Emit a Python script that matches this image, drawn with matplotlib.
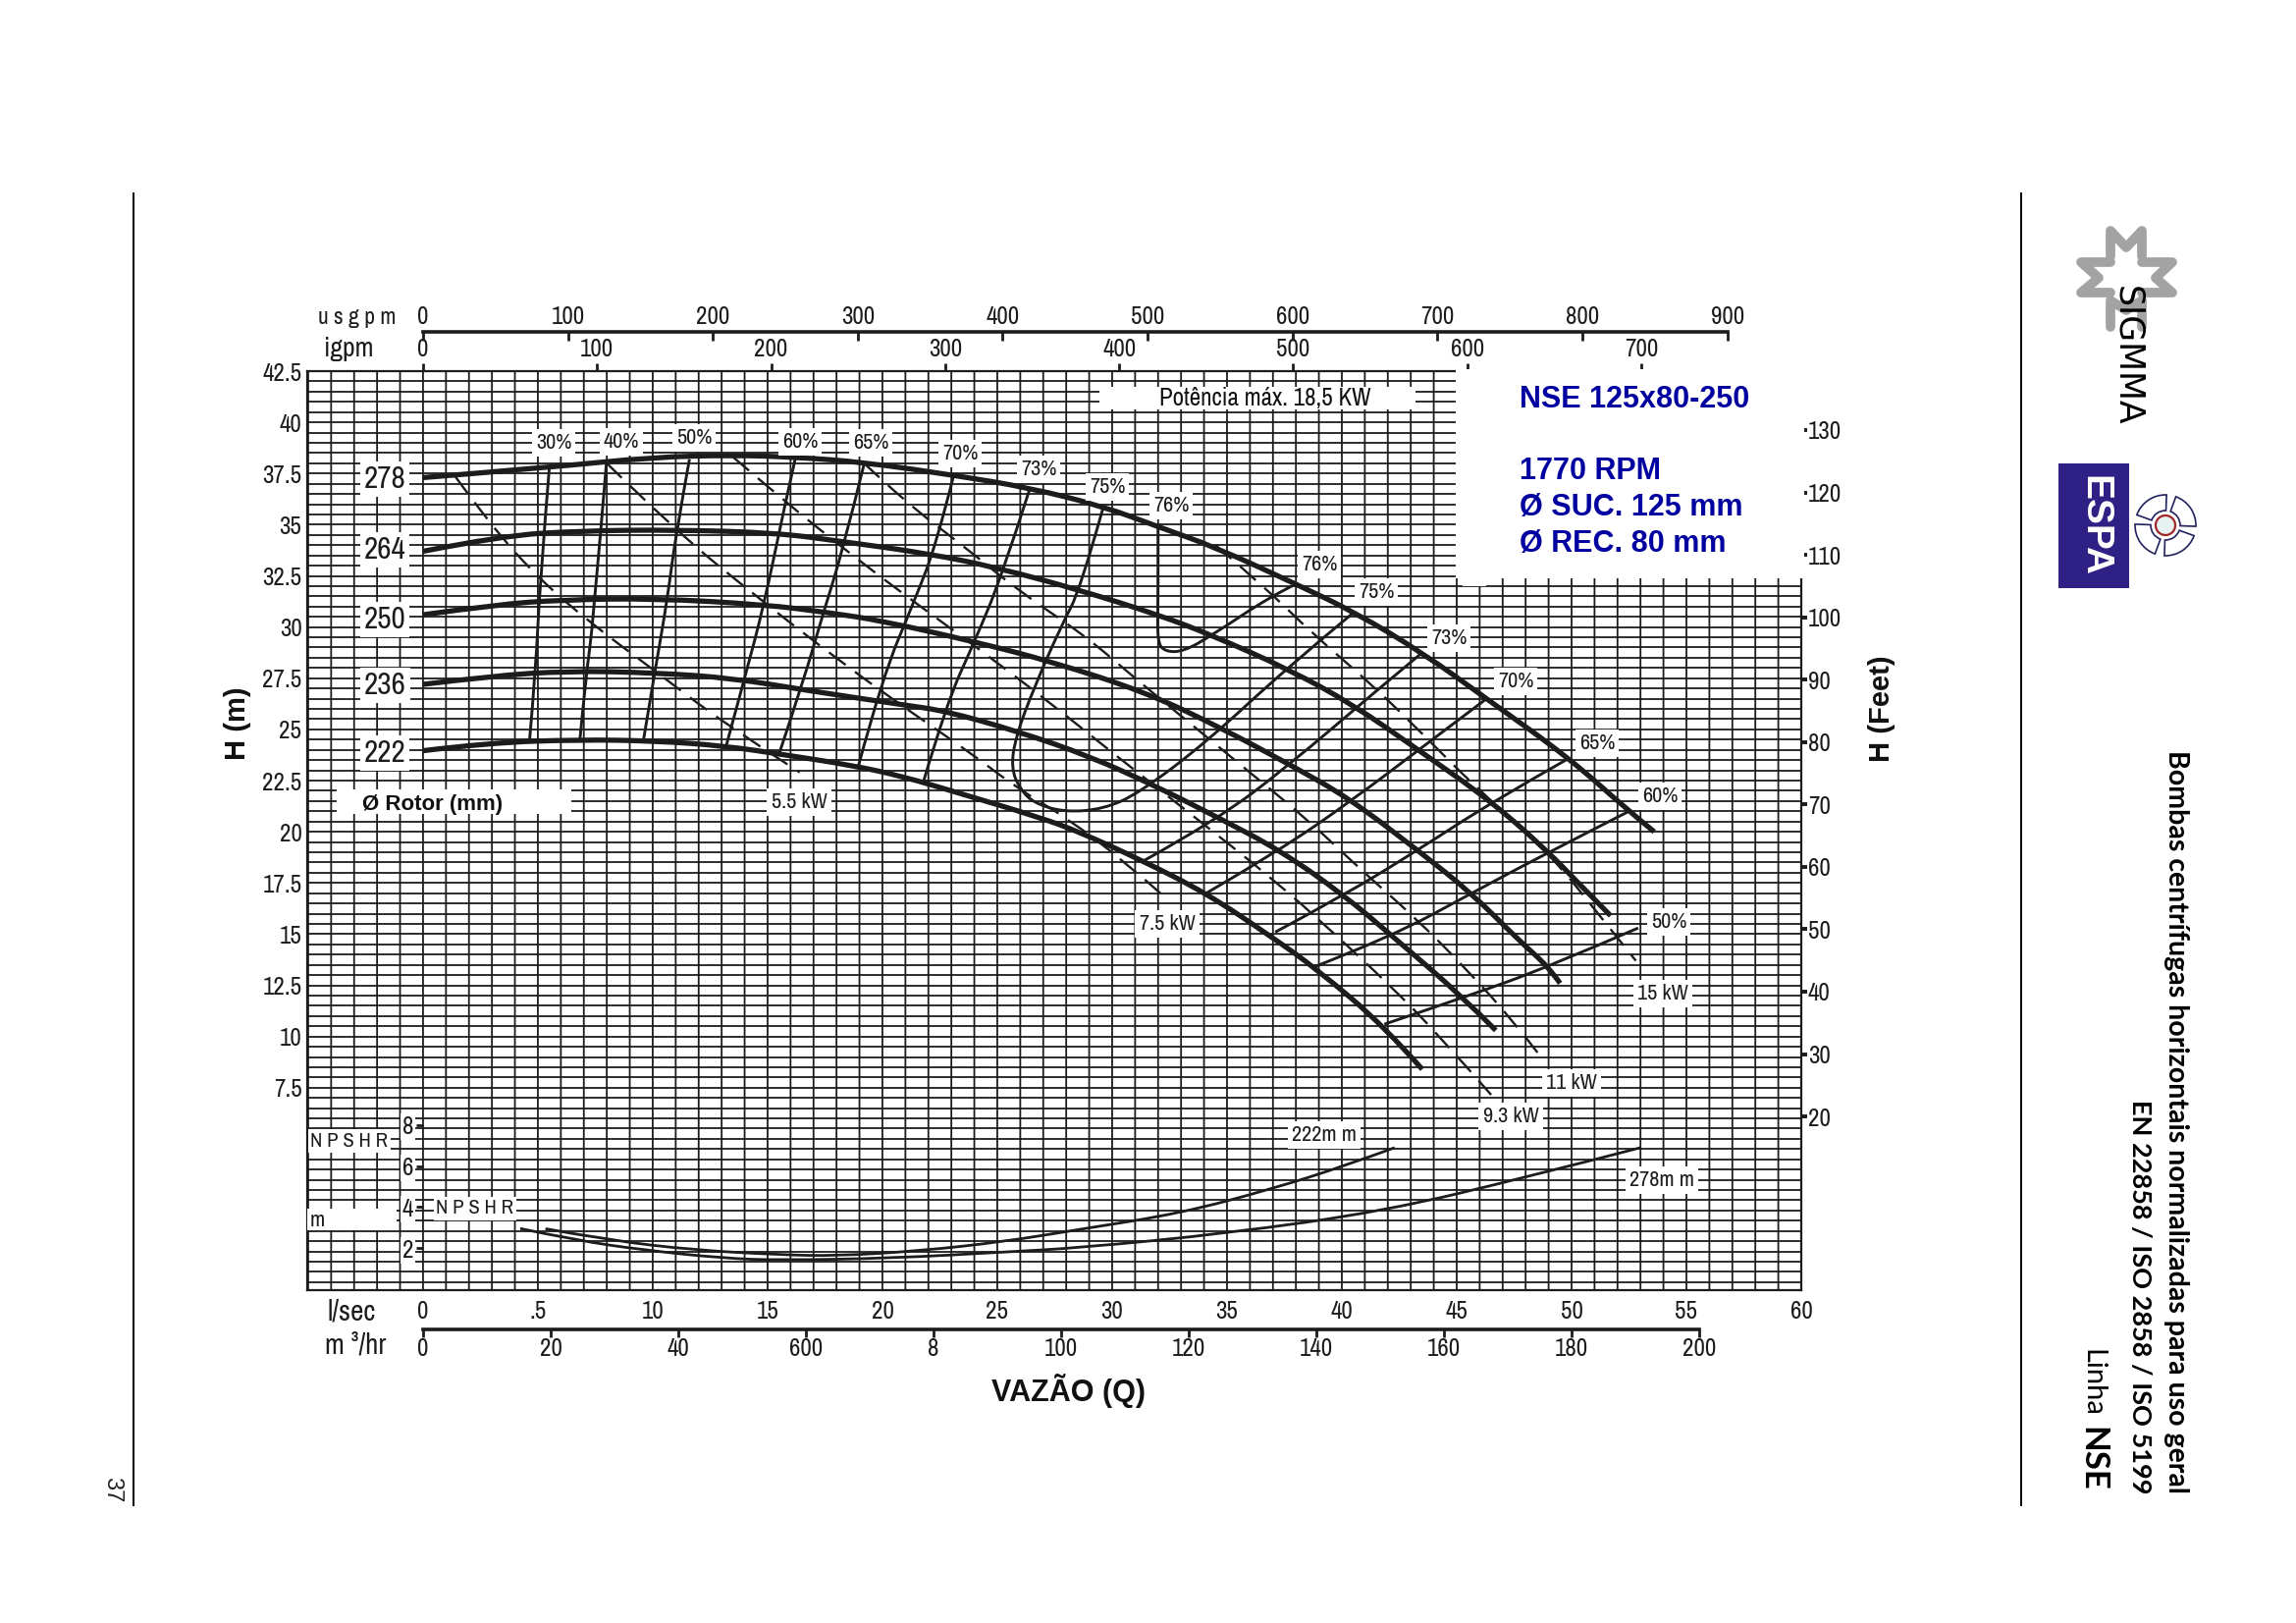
import numpy as np
import matplotlib
matplotlib.use("Agg")
import matplotlib.pyplot as plt
from matplotlib.patches import Rectangle, Circle, Wedge, PathPatch
from matplotlib.path import Path

W, HT = 2339, 1653
NARROW = ['Archivo Narrow', 'Liberation Sans']
PLAIN = ['Liberation Sans']
plt.rcParams['font.family'] = NARROW
INK = '#1c1c1c'

# head curves per rotor, flow in l/s, head in m
q_278 = [0, 5.5, 10, 13.5, 16.2, 19.2, 23.2, 26.4, 29.6, 32, 34.5, 38, 40.6, 43.5, 46.3, 49.9, 52.5, 53.6]
h_278 = [37.3, 37.8, 38.3, 38.4, 38.3, 38.05, 37.4, 36.8, 35.9, 34.9, 33.9, 32.1, 30.7, 28.75, 26.5, 23.6, 21.0, 20.0]
q_264 = [0, 3.4, 6.8, 11, 15.4, 18.1, 21.95, 25, 28.6, 32, 34.35, 37.75, 40.5, 43.2, 46.55, 49, 50.2, 51.7]
h_264 = [33.7, 34.45, 34.7, 34.75, 34.6, 34.2, 33.6, 32.9, 31.8, 30.6, 29.6, 27.9, 26.2, 24.1, 21.45, 19.0, 17.6, 15.9]
q_250 = [0, 3.2, 6.07, 10.08, 14.85, 17.7, 20, 24.1, 27.4, 31.5, 34.75, 37.75, 40.3, 43.3, 45.65, 47.7, 49, 49.5]
h_250 = [30.6, 31.1, 31.33, 31.4, 31.1, 30.7, 30.3, 29.26, 28.3, 26.8, 25.07, 23.27, 21.65, 19.1, 17.0, 14.7, 13.4, 12.6]
q_236 = [0, 2.9, 6.3, 10.1, 13.5, 16.75, 20.9, 22.76, 25.9, 29, 31.95, 34.6, 37.3, 40.1, 42.2, 45.3, 46.7]
h_236 = [27.2, 27.6, 27.86, 27.77, 27.5, 26.9, 26.2, 25.9, 24.9, 23.7, 22.2, 20.7, 19.1, 16.9, 14.9, 11.9, 10.3]
q_222 = [0, 2.9, 6.8, 10.1, 13.1, 15.8, 18.7, 20.9, 23.3, 26.85, 28.6, 31.3, 34.1, 36.9, 38.9, 41.85, 43.5]
h_222 = [23.96, 24.35, 24.5, 24.44, 24.2, 23.75, 23.24, 22.7, 21.9, 20.7, 19.98, 18.6, 17.0, 14.9, 13.3, 10.5, 8.4]
rotor_curves = [(q_278, h_278), (q_264, h_264), (q_250, h_250), (q_236, h_236), (q_222, h_222)]

# efficiency lines
eff_lines = {
    '30': ([5.5, 5.1, 4.9, 4.64], [37.8, 32.3, 27.8, 24.5]),
    '40': ([7.98, 7.4, 7.1, 6.83], [37.96, 30.1, 27.7, 24.5]),
    '50': ([11.6, 11, 10.65, 10.1, 9.6], [38.2, 34.5, 31.45, 27.86, 24.5]),
    '60': ([16.2, 15.7, 14.85, 14, 13.2], [38.2, 35.7, 31.1, 27.5, 24.2]),
    '65': ([19.2, 18.3, 17.4, 16.6, 15.5], [37.96, 33.85, 30.6, 27.5, 23.8]),
    '70': ([23.1, 22.35, 21.4, 20, 18.95], [37.4, 34.06, 31.3, 27.55, 23.2]),
    '73': ([26.4, 25.2, 24, 22.8, 21.8], [36.7, 32.5, 29.26, 26.3, 22.5]),
    '75': ([29.6, 28.6, 27.8, 26.6, 25.8, 25.6, 26, 26.6, 27.9, 29.6, 31.2, 34.2, 37.5, 40.5],
           [35.8, 31.8, 30.1, 27.04, 24.64, 23.1, 22.07, 21.4, 20.96, 21.1, 21.9, 24.47, 27.9, 30.7]),
    '76': ([32, 32, 31.97, 32.3, 33.1, 34.35, 36.9, 38],
           [34.9, 31.3, 29.26, 28.8, 28.8, 29.6, 31.5, 32.1]),
    '73r': ([43.5, 41.3, 37.75, 34.6, 31.4], [28.75, 26.7, 23.3, 20.6, 18.6]),
    '70r': ([46.3, 43.7, 40.4, 37.3, 34.1], [26.5, 24.3, 21.5, 19.1, 17.0]),
    '65r': ([49.9, 46.6, 43.3, 40.1, 37.1], [23.6, 21.5, 19.1, 16.9, 15.1]),
    '60r': ([52.5, 49, 45.65, 42.2, 38.8], [21.0, 19.0, 17.0, 14.9, 13.4]),
    '50r': ([52.9, 49, 45.3, 41.85], [15.3, 13.4, 11.9, 10.6]),
}

# power lines (dashed)
kw_5_5 = ([1.4, 3, 5.1, 7.4, 10.1, 13.1, 16.4], [37.36, 34.9, 32.3, 30.1, 27.86, 25.3, 22.9])
kw_7_5 = ([8, 11, 14.5, 18.3, 21.3, 23.9, 25.9, 28, 30.6, 32.3],
          [38, 34.7, 31.5, 28.2, 25.8, 23.8, 22.1, 20.7, 18.5, 16.8])
kw_9_3 = ([13.5, 16, 18.3, 20.8, 24, 27.3, 29.85, 33.5, 37.1, 39.6, 42, 44.2, 46.5],
          [38.3, 35.9, 33.85, 31.7, 29.1, 26.3, 24, 20.8, 17.6, 15.1, 12.6, 10.1, 7.15])
kw_11 = ([19.2, 21, 23.6, 26, 28.8, 31.1, 33.5, 36.1, 38.6, 40.87, 43.2, 45.5, 47.5, 48.6],
         [38, 36.1, 33.9, 31.7, 29.6, 27.4, 25.2, 22.8, 20.5, 18.1, 15.8, 13.2, 10.7, 9.1])
kw_15 = ([34.5, 36.5, 38.8, 41.2, 43.5, 45.8, 49, 51.3, 52.8],
         [34, 32.1, 29.6, 27.3, 24.8, 22.2, 19, 15.8, 13.7])
power_lines = [kw_5_5, kw_7_5, kw_9_3, kw_11, kw_15]

# NPSHR
npsh_q_222 = [5.33, 8.15, 11.8, 15.5, 18, 21.65, 25.3, 28.6, 33, 37, 40.1, 42.3]
npsh_222 = [2.94, 2.37, 1.9, 1.67, 1.61, 1.86, 2.31, 2.91, 3.7, 4.9, 6.0, 6.9]
npsh_q_278 = [4.23, 6.7, 9.6, 13.06, 15.5, 20.4, 25.3, 28.6, 35, 41.85, 48.2, 53]
npsh_278 = [2.95, 2.37, 1.9, 1.5, 1.4, 1.5, 1.8, 2.01, 2.71, 3.8, 5.5, 6.9]

# axis ticks
h_ticks = [7.5, 10, 12.5, 15, 17.5, 20, 22.5, 25, 27.5, 30, 32.5, 35, 37.5, 40, 42.5]
h_labels = ['7.5', '10', '12.5', '15', '17.5', '20', '22.5', '25', '27.5', '30', '32.5', '35', '37.5', '40', '42.5']
ls_ticks = list(range(0, 65, 5))
ls_labels = ['0', '.5', '10', '15', '20', '25', '30', '35', '40', '45', '50', '55', '60']
m3h_ticks = list(range(0, 220, 20))
m3h_labels = ['0', '20', '40', '600', '8', '100', '120', '140', '160', '180', '200']
usgpm_ticks = list(range(0, 1000, 100))
igpm_ticks = list(range(0, 800, 100))
ft_ticks = list(range(20, 140, 10))
npsh_ticks = [2, 4, 6, 8]

# labels, pixel positions of the page
eff_text = [('30%', 564, 451), ('40%', 633, 450), ('50%', 707, 446), ('60%', 815, 450), ('65%', 887, 451),
            ('70%', 978, 462), ('73%', 1058, 478), ('75%', 1128, 496), ('76%', 1193, 515), ('76%', 1344, 575),
            ('75%', 1402, 603), ('73%', 1476, 650), ('70%', 1544, 694), ('65%', 1627, 757), ('60%', 1691, 811),
            ('50%', 1700, 939), ('5.5 kW', 814, 817), ('7.5 kW', 1189, 941), ('9.3 kW', 1539, 1137),
            ('11 kW', 1601, 1103), ('15 kW', 1694, 1012), ('222m m', 1349, 1156), ('278m m', 1693, 1202)]
rotor_text = [('278', 392, 488), ('264', 392, 560), ('250', 392, 631), ('236', 392, 698), ('222', 392, 767)]


def curve(axes, q, h, **kw):
    # quadratic spline through the read points, so the lines bend like the printed ones
    pts = np.column_stack([q, h])
    verts = [pts[0]]
    codes = [Path.MOVETO]
    for i in range(1, len(pts) - 1):
        end = pts[i + 1] if i == len(pts) - 2 else (pts[i] + pts[i + 1]) / 2
        verts += [pts[i], end]
        codes += [Path.CURVE3, Path.CURVE3]
    if len(pts) == 2:
        verts.append(pts[1])
        codes.append(Path.LINETO)
    axes.add_patch(PathPatch(Path(verts, codes), fill=False, edgecolor=INK, joinstyle='round', **kw))


fig = plt.figure(figsize=(W / 100, HT / 100), dpi=100, facecolor='white')
ax = fig.add_axes([313 / W, 1 - 1314 / HT, 1522 / W, 936 / HT])
ax.set_xlim(-5.04, 60)
ax.set_ylim(-2.39, 42.5)

ax.set_xticks(ls_ticks, ls_labels)
ax.set_yticks(h_ticks, h_labels)
# grid: 1 l/s and 0.5 m
ax.xaxis.remove_overlapping_locs = False
ax.yaxis.remove_overlapping_locs = False
ax.set_xticks(np.arange(-5, 61, 1), minor=True)
ax.set_yticks(np.arange(-2, 43, 0.5), minor=True)
ax.set_axisbelow(True)
ax.grid(True, which='minor', axis='x', color=INK, lw=1.3, snap=False)
ax.grid(True, which='minor', axis='y', color=INK, lw=1.3)
ax.tick_params(which='minor', length=0)
for s in ax.spines.values():
    s.set_linewidth(1.6)
    s.set_color(INK)

ax.tick_params(axis='x', which='major', length=0, pad=7, labelsize=18, labelcolor=INK)
ax.tick_params(axis='y', which='major', length=0, pad=4, labelsize=18, labelcolor=INK)

for q, h in rotor_curves:
    curve(ax, q, h, lw=3.8, capstyle='butt', zorder=3)
for q, h in eff_lines.values():
    curve(ax, q, h, lw=2.1, capstyle='butt', zorder=2.5)
for q, h in power_lines:
    curve(ax, q, h, lw=1.7, capstyle='butt', ls=(0, (9, 5)), zorder=2.5)

npsh_zero = -2.33
curve(ax, npsh_q_222, np.array(npsh_222) + npsh_zero, lw=2, zorder=2.5)
curve(ax, npsh_q_278, np.array(npsh_278) + npsh_zero, lw=2, zorder=2.5)


def side_axis(sec, side, bounds=None):
    for name, s in sec.spines.items():
        s.set_visible(name == side and bounds is not None)
    if bounds is not None:
        sec.spines[side].set_bounds(*bounds)
        sec.spines[side].set_linewidth(2.6)
        sec.spines[side].set_color(INK)
    sec.set_zorder(6)


usgpm = ax.secondary_xaxis(1 + 40 / 936, functions=(lambda q: q / 0.06309, lambda g: g * 0.06309))
usgpm.set_xticks(usgpm_ticks)
usgpm.tick_params(direction='in', length=6.5, width=2, pad=3, labelsize=18, labelcolor=INK, color=INK)
side_axis(usgpm, 'top', (0, 900))

igpm = ax.secondary_xaxis('top', functions=(lambda q: q / 0.07577, lambda g: g * 0.07577))
igpm.set_xticks(igpm_ticks)
igpm.tick_params(direction='out', length=6, width=2, pad=2, labelsize=18, labelcolor=INK, color=INK)
side_axis(igpm, 'top')

m3h = ax.secondary_xaxis(-40 / 936, functions=(lambda q: q * 3.6, lambda m: m / 3.6))
m3h.set_xticks(m3h_ticks, m3h_labels)
m3h.tick_params(direction='out', length=6, width=2, pad=0, labelsize=18, labelcolor=INK, color=INK)
side_axis(m3h, 'bottom', (0, 200))

feet = ax.secondary_yaxis('right', functions=(lambda h: h * 3.2808, lambda f: f / 3.2808))
feet.set_yticks(ft_ticks)
feet.tick_params(direction='out', length=4, width=2.8, pad=1, labelsize=18, labelcolor=INK, color=INK)
side_axis(feet, 'right')

npsh = ax.secondary_yaxis((431 - 313) / 1522, functions=(lambda h: h - npsh_zero, lambda n: n + npsh_zero))
npsh.set_yticks(npsh_ticks)
npsh.tick_params(direction='out', length=5, width=2, pad=2, labelsize=18, labelcolor=INK, color=INK)
side_axis(npsh, 'left')
for t in npsh.get_yticklabels():
    t.set_bbox(dict(fc='white', ec='none', pad=1.5))

# page layer in pixels
page = fig.add_axes([0, 0, 1, 1], zorder=10)
page.set_xlim(0, W)
page.set_ylim(HT, 0)
page.axis('off')
page.patch.set_alpha(0)


def white_box(x0, y0, x1, y1):
    page.add_patch(Rectangle((x0, y0), x1 - x0, y1 - y0, fc='white', ec='none', zorder=1))


white_box(1483, 376, 1838, 589)
white_box(1490, 589, 1514, 597)
white_box(1120, 394, 1442, 417)
white_box(343, 804, 582, 829)
white_box(313, 1231, 404, 1253)

for s, x, y in eff_text:
    page.text(x, y, s, ha='center', va='center', fontsize=16, color=INK, zorder=3,
              bbox=dict(fc='white', ec='none', pad=3))
for s, x, y in rotor_text:
    page.text(x, y, s, ha='center', va='center', fontsize=22.5, color=INK, zorder=3,
              bbox=dict(fc='white', ec='none', pad=3))

page.text(364, 323, 'u s g p m', ha='center', va='center', fontsize=17, color=INK)
page.text(355, 355, 'igpm', ha='center', va='center', fontsize=20, color=INK)
page.text(358, 1336, 'l/sec', ha='center', va='center', fontsize=21, color=INK)
page.text(362, 1370, 'm ³/hr', ha='center', va='center', fontsize=21, color=INK)
page.text(356, 1162, 'N P S H R', ha='center', va='center', fontsize=15, color=INK, zorder=3,
          bbox=dict(fc='white', ec='none', pad=2))
page.text(484, 1231, 'N P S H R', ha='center', va='center', fontsize=15, color=INK, zorder=3,
          bbox=dict(fc='white', ec='none', pad=2))
page.text(323, 1243, 'm', ha='center', va='center', fontsize=16, color=INK, zorder=3)

page.text(441, 819, 'Ø Rotor (mm)', ha='center', va='center', fontsize=16, fontweight='bold', family=PLAIN,
          color='#111111', zorder=3)
page.text(1289, 406, 'Potência máx. 18,5 KW', ha='center', va='center', fontsize=18, fontweight='bold',
          color='#111111', zorder=3)

BLUE = '#0000a0'
for s, y in [('NSE 125x80-250', 407), ('1770 RPM', 480), ('Ø SUC. 125 mm', 517), ('Ø REC. 80 mm', 554)]:
    page.text(1548, y, s, ha='left', va='center', fontsize=22, fontweight='bold', family=PLAIN, color=BLUE, zorder=3)

page.text(242, 737, 'H (m)', rotation=90, ha='center', va='center', fontsize=21, fontweight='bold', family=PLAIN, color='#111111')
page.text(1917, 722, 'H (Feet)', rotation=90, ha='center', va='center', fontsize=21, fontweight='bold', family=PLAIN, color='#111111')
page.text(1088, 1416, 'VAZÃO (Q)', ha='center', va='center', fontsize=22, fontweight='bold', family=PLAIN, color='#111111')

# page frame
page.plot([136, 136], [197, 1533], color='black', lw=1.4)
page.plot([2059, 2059], [197, 1533], color='black', lw=1.4)
page.text(114, 1517, '37', rotation=-90, ha='center', va='center', fontsize=17, family=PLAIN, color='#222222')

SIDE = ['Lato', 'Liberation Sans']
page.text(2217, 1521, 'Bombas centrífugas horizontais normalizadas para uso geral', rotation=-90,
          ha='center', va='bottom', fontsize=20.5, fontweight='bold', family=SIDE, color='black')
page.text(2180, 1521, 'EN 22858 / ISO 2858 / ISO 5199', rotation=-90,
          ha='center', va='bottom', fontsize=19.5, fontweight='bold', family=SIDE, color='black')
page.text(2131, 1408, 'Linha', rotation=-90, ha='center', va='center', fontsize=21, family=SIDE, color='black')
page.text(2131, 1486, 'NSE', rotation=-90, ha='center', va='center', fontsize=25, fontweight='bold', family=SIDE, color='black')

# logos
GREY = '#a3a3a3'
arm_top = ([2150, 2150, 2166, 2182, 2182], [261, 235, 252, 235, 261])
arm_left = ([2150, 2120, 2138, 2120, 2150], [267, 267, 283, 298, 298])
arm_right = ([2182, 2213, 2196, 2213, 2182], [267, 267, 283, 298, 298])
arm_bottom = ([2150, 2150, 2166, 2182, 2182], [333, 306, 316, 306, 333])
for xs, ys in (arm_top, arm_left, arm_right, arm_bottom):
    page.plot(xs, ys, color=GREY, lw=7, solid_joinstyle='round', solid_capstyle='round')
page.text(2167, 362, 'SIGMMA', rotation=-90, ha='center', va='center', fontsize=25, color='black',
          family=['DejaVu Sans'])

page.add_patch(Rectangle((2097, 472), 72, 127, fc='#2e2085', ec='none'))
page.text(2133, 535, 'ESPA', rotation=-90, ha='center', va='center', fontsize=28, fontweight='bold', family=PLAIN, color='white')

NAVY = '#22225e'
for start in (20, 110, 200, 290):
    page.add_patch(Wedge((2206, 535), 31, start, start + 72, width=16, fc='white', ec=NAVY, lw=1.2))
page.add_patch(Circle((2206, 535), 10, fc='#e8f2f0', ec='#a02828', lw=1.6))

fig.savefig('out.png', dpi=100)
